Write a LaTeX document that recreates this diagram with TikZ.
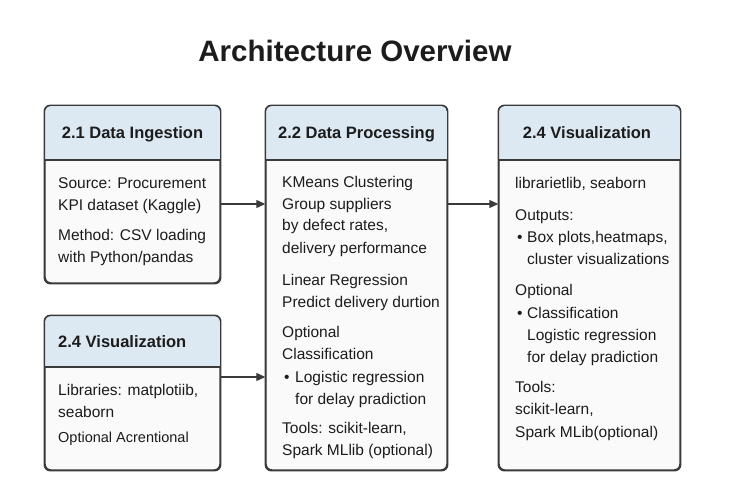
\documentclass[tikz,border=0pt]{standalone}
\usepackage{fontspec}
\setmainfont{Liberation Sans}
\usetikzlibrary{arrows.meta}
\definecolor{hdrcol}{HTML}{DDE9F2}
\definecolor{bodycol}{HTML}{FAFAFA}
\definecolor{edgecol}{HTML}{3A3A3A}
\definecolor{txtcol}{HTML}{1C1C1C}
\tikzset{
  x=1pt, y=-1pt,
  boxshape/.style={draw=edgecol, line width=1.4pt, fill=bodycol, rounded corners=6pt, inner sep=0pt},
  hdrtext/.style={font=\fontsize{16.5}{19}\selectfont\bfseries, text=txtcol, anchor=base, inner sep=0pt},
  bodytext/.style={font=\fontsize{15.5}{20}\selectfont, text=txtcol, anchor=base west, inner sep=0pt},
  link/.style={draw=edgecol, line width=1.2pt, -{Triangle[length=9pt,width=8pt]}},
}
\newcommand{\archbox}[6]{% name, x1, y1, x2, y2, header bottom
  \node[boxshape, minimum width=#4pt-#2pt, minimum height=#5pt-#3pt] (#1) at ({(#2+#4)/2},{(#3+#5)/2}) {};
  \begin{scope}
    \clip[rounded corners=6pt] (#2,#3) rectangle (#4,#5);
    \fill[hdrcol] (#2,#3) rectangle (#4,#6);
  \end{scope}
  \draw[edgecol, line width=1.3pt] (#2,#6) -- (#4,#6);
  \draw[edgecol, line width=1.4pt, rounded corners=6pt] (#1.north west) rectangle (#1.south east);
}
\begin{document}
\begin{tikzpicture}
\useasboundingbox[fill=white] (0,0) rectangle (738,492);

\node[font=\fontsize{29.5}{32}\selectfont\bfseries, text=txtcol, anchor=base, inner sep=0pt] (title) at (355,62) {Architecture Overview};

% boxes
\archbox{b1}{45}{106}{220}{283}{160}
\archbox{b2}{45}{316}{220}{470}{367}
\archbox{b3}{266}{106}{447}{470}{160}
\archbox{b4}{499}{106}{680}{470}{160}

% headers
\node[hdrtext] (h1) at (132.5,139) {2.1 Data Ingestion};
\node[hdrtext, anchor=base west] (h2) at (58,347) {2.4 Visualization};
\node[hdrtext] (h3) at (356.5,139) {2.2 Data Processing};
\node[hdrtext] (h4) at (587,139) {2.4 Visualization};

% box 1
\node[bodytext] (t1a) at (58,188) {Source: Procurement};
\node[bodytext] (t1b) at (58,210) {KPI dataset (Kaggle)};
\node[bodytext] (t1c) at (58,240) {Method: CSV loading};
\node[bodytext] (t1d) at (58,262) {with Python/pandas};

% box 2
\node[bodytext] (t2a) at (58,395) {Libraries: matplotiib,};
\node[bodytext] (t2b) at (58,417) {seaborn};
\node[bodytext, font=\fontsize{14.5}{18}\selectfont] (t2c) at (58,442) {Optional Acrentional};

% box 3
\node[bodytext] (t3a) at (282,187) {KMeans Clustering};
\node[bodytext] (t3b) at (282,209) {Group suppliers};
\node[bodytext] (t3c) at (282,230) {by defect rates,};
\node[bodytext] (t3d) at (282,253) {delivery performance};
\node[bodytext] (t3e) at (282,285) {Linear Regression};
\node[bodytext] (t3f) at (282,307) {Predict delivery durtion};
\node[bodytext] (t3g) at (282,337) {Optional};
\node[bodytext] (t3h) at (282,359) {Classification};
\node[bodytext] (t3i) at (284,382) {•};
\node[bodytext] (t3j) at (295,382) {Logistic regression};
\node[bodytext] (t3k) at (295,404) {for delay pradiction};
\node[bodytext] (t3l) at (282,433) {Tools: scikit-learn,};
\node[bodytext] (t3m) at (282,455) {Spark MLlib (optional)};

% box 4
\node[bodytext] (t4a) at (515,188) {librarietlib, seaborn};
\node[bodytext] (t4b) at (515,220) {Outputs:};
\node[bodytext] (t4c) at (517,242) {•};
\node[bodytext] (t4d) at (527,242) {Box plots,heatmaps,};
\node[bodytext] (t4e) at (527,264) {cluster visualizations};
\node[bodytext] (t4f) at (515,295) {Optional};
\node[bodytext] (t4g) at (517,318) {•};
\node[bodytext] (t4h) at (527,318) {Classification};
\node[bodytext] (t4i) at (527,340) {Logistic regression};
\node[bodytext] (t4j) at (527,362) {for delay pradiction};
\node[bodytext] (t4k) at (515,392) {Tools:};
\node[bodytext] (t4l) at (515,414) {scikit-learn,};
\node[bodytext] (t4m) at (515,437) {Spark MLib(optional)};

% connectors
\draw[link] (b1.east |- 0,204) -- (b3.west |- 0,204);
\draw[link] (b2.east |- 0,377) -- (b3.west |- 0,377);
\draw[link] (b3.east |- 0,204) -- (b4.west |- 0,204);
\end{tikzpicture}
\end{document}
